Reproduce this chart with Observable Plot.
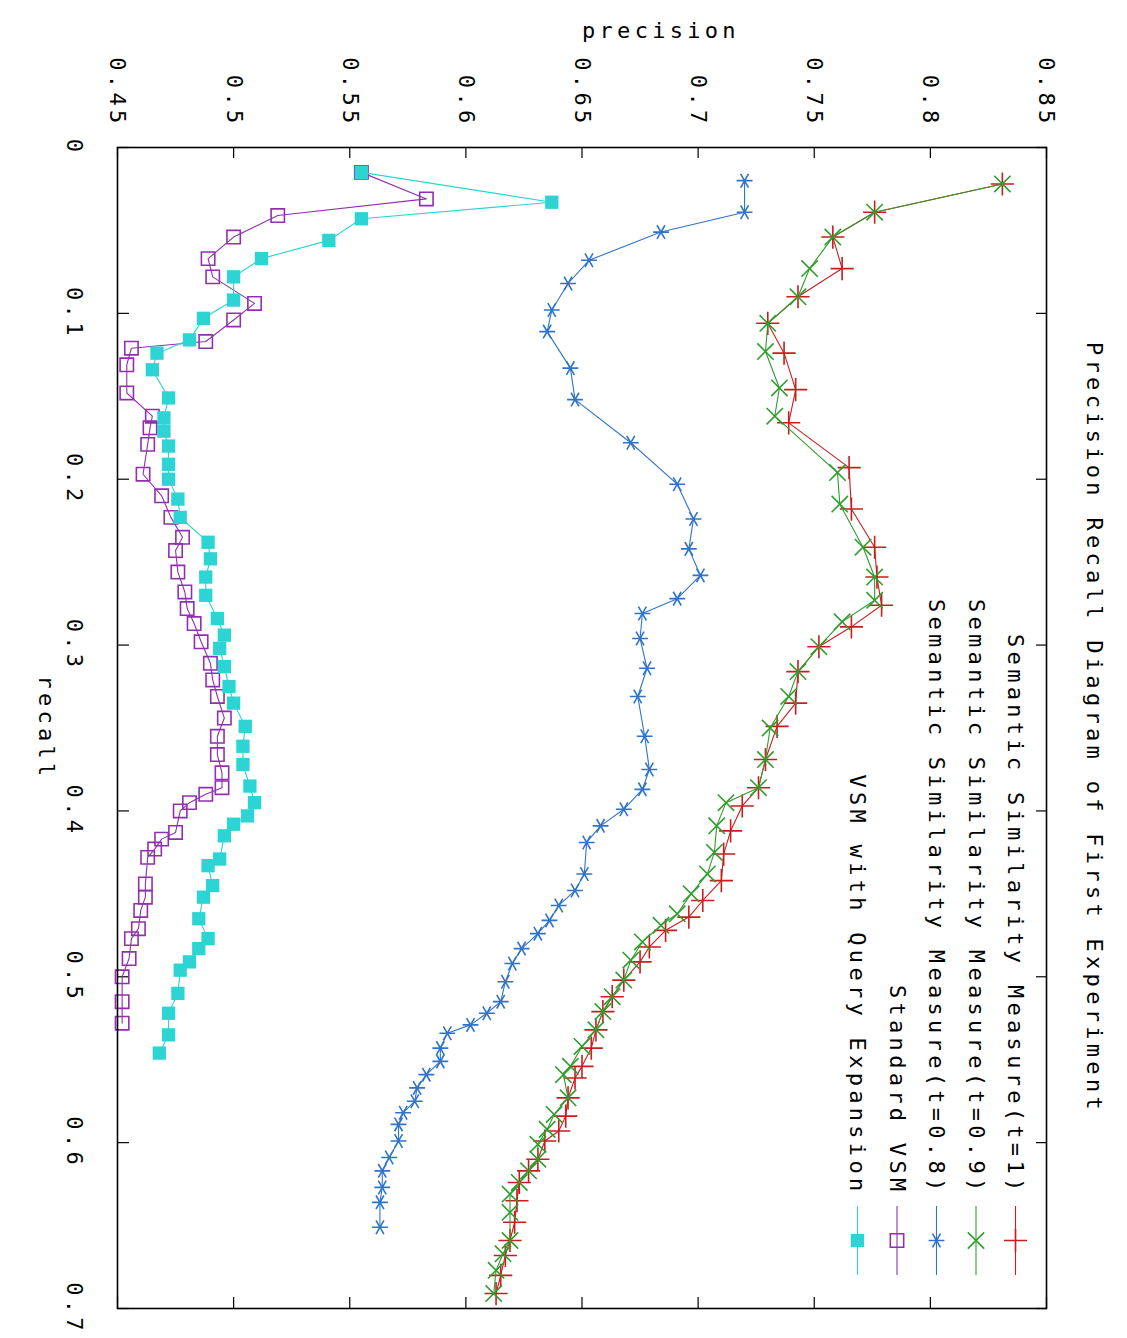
<!DOCTYPE html>
<html><head><meta charset="utf-8">
<script src="https://cdn.jsdelivr.net/npm/d3@7"></script>
<script src="https://cdn.jsdelivr.net/npm/@observablehq/plot@0.6"></script>
<style>
html,body{margin:0;padding:0;background:#fff;overflow:hidden;width:1127px;height:1338px;}
#wrap{position:absolute;left:0;top:0;width:1338px;height:1127px;transform-origin:0 0;transform:translate(1127px,0) rotate(90deg);}
</style></head><body><div id="wrap"></div>
<script>
const chartTitle = "Precision Recall Diagram of First Experiment";
const xLabel = "recall";
const yLabel = "precision";
const recallTicks = [0, 0.1, 0.2, 0.3, 0.4, 0.5, 0.6, 0.7];
const recallTickLabels = ["0", "0.1", "0.2", "0.3", "0.4", "0.5", "0.6", "0.7"];
const precisionTicks = [0.45, 0.5, 0.55, 0.6, 0.65, 0.7, 0.75, 0.8, 0.85];
const precisionTickLabels = ["0.45", "0.5", "0.55", "0.6", "0.65", "0.7", "0.75", "0.8", "0.85"];
const seriesNames = ["Semantic Similarity Measure(t=1)", "Semantic Similarity Measure(t=0.9)", "Semantic Similarity Measure(t=0.8)", "Standard VSM", "VSM with Query Expansion"];
const seriesColors = ["#c81e1e", "#2e9e2e", "#2f74c8", "#9030b0", "#2cd4d4"];

const recallT1 = [0.022,0.039,0.054,0.073,0.090,0.106,0.124,0.146,0.166,0.193,0.218,0.241,0.259,0.276,0.289,0.301,0.316,0.335,0.349,0.369,0.386,0.397,0.412,0.426,0.442,0.454,0.464,0.472,0.482,0.491,0.502,0.512,0.521,0.532,0.543,0.554,0.561,0.573,0.584,0.593,0.599,0.610,0.617,0.624,0.635,0.648,0.659,0.668,0.680,0.691];
const precisionT1 = [0.831,0.776,0.758,0.762,0.743,0.730,0.737,0.742,0.739,0.765,0.766,0.776,0.777,0.779,0.766,0.752,0.743,0.742,0.734,0.729,0.726,0.719,0.714,0.711,0.710,0.702,0.696,0.686,0.679,0.675,0.668,0.663,0.659,0.656,0.654,0.650,0.647,0.644,0.643,0.640,0.634,0.631,0.627,0.623,0.622,0.621,0.619,0.617,0.615,0.613];

const recallT09 = [0.022,0.039,0.054,0.073,0.090,0.106,0.123,0.145,0.162,0.196,0.215,0.241,0.259,0.273,0.286,0.301,0.316,0.331,0.350,0.369,0.386,0.395,0.409,0.425,0.438,0.450,0.462,0.469,0.479,0.490,0.502,0.512,0.521,0.532,0.542,0.554,0.559,0.573,0.583,0.592,0.601,0.610,0.617,0.624,0.631,0.642,0.659,0.667,0.677,0.691];
const precisionT09 = [0.831,0.776,0.758,0.748,0.743,0.730,0.729,0.735,0.733,0.760,0.761,0.771,0.776,0.776,0.762,0.752,0.743,0.739,0.731,0.729,0.726,0.712,0.708,0.707,0.704,0.697,0.691,0.684,0.676,0.671,0.668,0.663,0.659,0.656,0.650,0.645,0.642,0.644,0.638,0.635,0.631,0.631,0.627,0.623,0.619,0.619,0.619,0.616,0.613,0.612];

const recallT08 = [0.020,0.039,0.051,0.068,0.082,0.098,0.111,0.133,0.152,0.178,0.203,0.224,0.242,0.258,0.272,0.281,0.296,0.314,0.331,0.355,0.375,0.387,0.399,0.409,0.419,0.438,0.448,0.457,0.466,0.474,0.483,0.492,0.503,0.515,0.522,0.529,0.534,0.543,0.551,0.559,0.567,0.575,0.582,0.589,0.599,0.609,0.617,0.627,0.636,0.651];
const precisionT08 = [0.720,0.720,0.684,0.653,0.644,0.637,0.635,0.645,0.647,0.671,0.691,0.698,0.696,0.701,0.691,0.676,0.675,0.678,0.674,0.677,0.679,0.676,0.668,0.658,0.652,0.651,0.647,0.640,0.636,0.631,0.624,0.620,0.617,0.615,0.609,0.602,0.592,0.589,0.589,0.583,0.579,0.578,0.573,0.571,0.571,0.567,0.564,0.564,0.563,0.563];

const recallVSM = [0.015,0.031,0.041,0.054,0.067,0.078,0.094,0.104,0.117,0.121,0.131,0.148,0.162,0.169,0.179,0.197,0.210,0.223,0.235,0.243,0.256,0.268,0.278,0.287,0.298,0.311,0.321,0.331,0.344,0.355,0.366,0.377,0.386,0.390,0.395,0.400,0.413,0.417,0.423,0.428,0.444,0.452,0.460,0.471,0.477,0.489,0.500,0.515,0.528];
const precisionVSM = [0.555,0.583,0.519,0.500,0.489,0.491,0.509,0.500,0.488,0.456,0.454,0.454,0.465,0.464,0.463,0.461,0.469,0.473,0.478,0.475,0.476,0.479,0.480,0.483,0.486,0.490,0.491,0.493,0.496,0.493,0.493,0.495,0.495,0.488,0.481,0.477,0.475,0.469,0.466,0.463,0.462,0.462,0.460,0.459,0.456,0.455,0.452,0.452,0.452];

const recallQE = [0.015,0.033,0.043,0.056,0.067,0.078,0.092,0.103,0.116,0.124,0.134,0.151,0.163,0.171,0.180,0.191,0.200,0.212,0.223,0.238,0.248,0.259,0.270,0.284,0.294,0.302,0.313,0.325,0.335,0.349,0.361,0.372,0.385,0.395,0.403,0.408,0.415,0.429,0.433,0.445,0.452,0.465,0.477,0.483,0.491,0.496,0.510,0.522,0.535,0.546];
const precisionQE = [0.555,0.637,0.555,0.541,0.512,0.500,0.500,0.487,0.481,0.467,0.465,0.472,0.470,0.470,0.472,0.472,0.472,0.476,0.477,0.489,0.490,0.488,0.488,0.493,0.496,0.494,0.496,0.498,0.500,0.505,0.504,0.504,0.507,0.509,0.506,0.500,0.496,0.494,0.489,0.491,0.487,0.485,0.489,0.485,0.481,0.477,0.476,0.472,0.472,0.468];

const seriesRecall = [recallT1, recallT09, recallT08, recallVSM, recallQE];
const seriesPrecision = [precisionT1, precisionT09, precisionT08, precisionVSM, precisionQE];

// layout (drawn in the un-rotated gnuplot orientation, then the page rotates it 90deg)
const W = 1338, H = 1127, mL = 147, mR = 30, mT = 80, mB = 118;
const frameW = W - mL - mR, frameH = H - mT - mB;
const xDom = [0, 0.7], yDom = [0.45, 0.85];
const invX = px => xDom[0] + (px - mL) / frameW * (xDom[1] - xDom[0]);
const invY = py => yDom[1] - (py - mT) / frameH * (yDom[1] - yDom[0]);
const tickLen = 11;

const symbols = ["plus", "times", "asterisk", "square2", "square"];
const symbolR = {plus: 7.5, times: 7.5, asterisk: 7.5, square2: 8.5, square: 7.5};
const seriesRows = seriesNames.map((name, k) =>
  seriesRecall[k].map((r, i) => ({series: name, recall: r, precision: seriesPrecision[k][i]})));

const legendRows = seriesNames.map((name, i) => ({name, i}));
const legendRowY = i => invY(111 + i * 39.5);
const legendTextX = invX(1195), legendMarkX = invX(1240), legendL1 = invX(1206), legendL2 = invX(1275);

const recallLabelMap = new Map(recallTicks.map((t, i) => [t, recallTickLabels[i]]));
const precLabelMap = new Map(precisionTicks.map((t, i) => [t, precisionTickLabels[i]]));

const marks = [
  Plot.tickX(recallTicks, {x: d => d, insetTop: frameH - tickLen, stroke: "black", strokeWidth: 1.2}),
  Plot.tickX(recallTicks, {x: d => d, insetBottom: frameH - tickLen, stroke: "black", strokeWidth: 1.2}),
  Plot.tickY(precisionTicks, {y: d => d, insetRight: frameW - tickLen, stroke: "black", strokeWidth: 1.2}),
  Plot.tickY(precisionTicks, {y: d => d, insetLeft: frameW - tickLen, stroke: "black", strokeWidth: 1.2}),
  Plot.axisX({ticks: recallTicks, tickFormat: d => recallLabelMap.get(d), tickSize: 0, tickPadding: 35, label: null}),
  Plot.axisY({ticks: precisionTicks, tickFormat: d => precLabelMap.get(d), tickSize: 0, tickPadding: 20, label: null})
];

seriesRows.forEach((rows, k) => {
  const filled = symbols[k] === "square";
  marks.push(Plot.line(rows, {x: "recall", y: "precision", stroke: seriesColors[k], strokeWidth: 1.1}));
  marks.push(Plot.dot(rows, {x: "recall", y: "precision", symbol: symbols[k], r: symbolR[symbols[k]],
    fill: filled ? seriesColors[k] : "none", stroke: filled ? "none" : seriesColors[k], strokeWidth: 1.6}));
});

// legend
marks.push(Plot.text(legendRows, {x: () => legendTextX, y: d => legendRowY(d.i), text: "name", textAnchor: "end", lineAnchor: "middle", fill: "black"}));
legendRows.forEach(d => {
  marks.push(Plot.ruleY([d], {y: e => legendRowY(e.i), x1: () => legendL1, x2: () => legendL2, stroke: seriesColors[d.i], strokeWidth: 1.1}));
  const filled = symbols[d.i] === "square";
  marks.push(Plot.dot([d], {x: () => legendMarkX, y: e => legendRowY(e.i), symbol: symbols[d.i], r: symbolR[symbols[d.i]],
    fill: filled ? seriesColors[d.i] : "none", stroke: filled ? "none" : seriesColors[d.i], strokeWidth: 1.6}));
});

marks.push(Plot.frame({stroke: "black", strokeWidth: 1.6}));
marks.push(Plot.text([chartTitle], {frameAnchor: "top", dy: -48, lineAnchor: "middle", text: d => d, fill: "black"}));
marks.push(Plot.text([xLabel], {frameAnchor: "bottom", dy: 71, lineAnchor: "middle", text: d => d, fill: "black"}));
marks.push(Plot.text([yLabel], {frameAnchor: "left", dx: -117, rotate: -90, lineAnchor: "middle", text: d => d, fill: "black"}));

const chart = Plot.plot({
  width: W, height: H,
  marginLeft: mL, marginRight: mR, marginTop: mT, marginBottom: mB,
  x: {domain: xDom},
  y: {domain: yDom},
  style: {fontFamily: "'DejaVu Sans Mono', monospace", fontSize: "22px", letterSpacing: "4.3px", background: "white", color: "black", overflow: "visible"},
  marks
});
document.getElementById("wrap").appendChild(chart);
</script>
</body></html>
